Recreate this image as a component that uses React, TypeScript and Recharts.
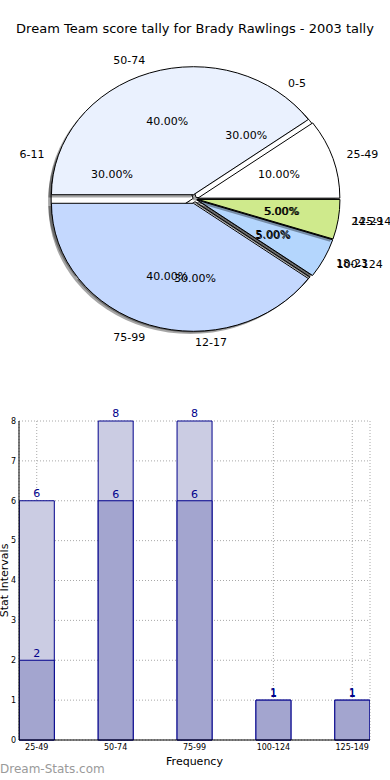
import React from "react";
import {
  Bar,
  BarChart,
  CartesianGrid,
  LabelList,
  Label,
  Pie,
  PieChart,
  Sector,
  XAxis,
  YAxis,
} from "recharts";

// outer pie: score ranges
const rangeNames = ["25-49", "50-74", "75-99", "100-124", "125-149"];
const rangeShares = [10, 40, 40, 5, 5];
const rangeColors = ["#ffffff", "#eaf1fe", "#c4d8fe", "#b4d6fd", "#cfea8c"];

// second pie: stat intervals
const intervalNames = ["0-5", "6-11", "12-17", "18-23", "24-29"];
const intervalShares = [30, 30, 30, 5, 5];

// bars
const barCategories = ["25-49", "50-74", "75-99", "100-124", "125-149"];
const totalCounts = [6, 8, 8, 1, 1];
const innerCounts = [2, 6, 6, 1, 1];
const yTicks = [0, 1, 2, 3, 4, 5, 6, 7, 8];

const R = 142;
const SY = 128 / 142; // matplotlib pie is squashed
const FONT = "'DejaVu Sans', Verdana, sans-serif";

const rangeData = rangeNames.map((name, i) => ({ name, value: rangeShares[i], fill: rangeColors[i] }));
const intervalData = intervalNames.map((name, i) => ({ name, value: intervalShares[i], fill: "#ffffff" }));
const barData = barCategories.map((c, i) => ({ pos: i, total: totalCounts[i], inner: innerCounts[i] }));

const explodeBy: Record<string, number> = {
  "25-49": 3,
  "50-74": 5,
  "75-99": 5,
  "100-124": 3,
  "125-149": 3,
  "0-5": 2,
  "6-11": 2,
  "12-17": 3,
  "18-23": 2,
  "24-29": 2,
};

const slice = (props: any) => {
  const { cx, cy, outerRadius, startAngle, endAngle, midAngle, fill } = props;
  const name = props.payload?.name ?? props.name;
  const e = explodeBy[name] ?? 0;
  const a = (-midAngle * Math.PI) / 180;
  const dx = e * Math.cos(a);
  const dy = e * Math.sin(a) * SY;
  return (
    <g transform={`translate(${dx} ${dy}) translate(0 ${cy}) scale(1 ${SY}) translate(0 ${-cy})`}>
      <Sector
        cx={cx - 3}
        cy={cy + 3}
        innerRadius={0}
        outerRadius={outerRadius}
        startAngle={startAngle}
        endAngle={endAngle}
        fill="#000"
        fillOpacity={0.35}
        stroke="none"
      />
      <Sector
        cx={cx}
        cy={cy}
        innerRadius={0}
        outerRadius={outerRadius}
        startAngle={startAngle}
        endAngle={endAngle}
        fill={fill}
        stroke="#000"
        strokeWidth={1}
        vectorEffect="non-scaling-stroke"
      />
    </g>
  );
};

const noSlice = () => <g />;

const pieLabel = (props: any) => {
  const { cx, cy, midAngle, outerRadius, name, value } = props;
  const e = explodeBy[name] ?? 0;
  const a = (-midAngle * Math.PI) / 180;
  const c = Math.cos(a);
  const s = Math.sin(a);
  const ro = 1.1 * outerRadius + e;
  const ri = 0.6 * outerRadius + e;
  return (
    <g fontFamily={FONT} fontSize={11} fill="#000">
      <text
        x={cx + ro * c}
        y={cy + ro * SY * s}
        textAnchor={c > -0.01 ? "start" : "end"}
        dominantBaseline="central"
        fill="#000"
      >
        {name}
      </text>
      <text
        x={cx + ri * c}
        y={cy + ri * SY * s}
        textAnchor="middle"
        dominantBaseline="central"
        fill="#000"
      >
        {Number(value).toFixed(2)}%
      </text>
    </g>
  );
};

const pieCommon = {
  dataKey: "value",
  cx: 195,
  cy: 199,
  outerRadius: R,
  startAngle: 0,
  endAngle: 360,
  labelLine: false,
  isAnimationActive: false,
};

export default function App() {
  return (
    <div
      style={{
        position: "absolute",
        left: 0,
        top: 0,
        width: 390,
        height: 780,
        background: "#fff",
        fontFamily: FONT,
        overflow: "hidden",
      }}
    >
      <div
        style={{
          position: "absolute",
          top: 21,
          left: 0,
          width: 390,
          textAlign: "center",
          fontSize: 13,
          color: "#000",
        }}
      >
        Dream Team score tally for Brady Rawlings - 2003 tally
      </div>

      <div style={{ position: "absolute", top: 0, left: 0 }}>
        <PieChart width={390} height={380} margin={{ top: 0, right: 0, bottom: 0, left: 0 }}>
          <Pie data={intervalData} {...pieCommon} shape={slice} label={false} />
          <Pie data={rangeData} {...pieCommon} shape={slice} label={false} />
          <Pie data={intervalData} {...pieCommon} shape={noSlice} label={pieLabel} />
          <Pie data={rangeData} {...pieCommon} shape={noSlice} label={pieLabel} />
        </PieChart>
      </div>

      <div style={{ position: "absolute", top: 400, left: 0 }}>
        <BarChart
          width={390}
          height={380}
          data={barData}
          margin={{ top: 21, right: 20, bottom: 0, left: 0 }}
        >
          <CartesianGrid stroke="#a8a8a8" strokeDasharray="1 2" xAxisId="b" yAxisId="l" />
          <XAxis
            xAxisId="b"
            dataKey="pos"
            type="number"
            domain={[-0.225, 4.225]}
            ticks={[0, 1, 2, 3, 4]}
            tickFormatter={(v) => barCategories[v]}
            allowDataOverflow
            height={40}
            stroke="#000"
            tickLine={false}
            tickSize={0}
            tick={{ fontSize: 8, fill: "#000", fontFamily: FONT }}
            tickMargin={4}
          >
            <Label
              value="Frequency"
              position="insideBottom"
              offset={15}
              style={{ fontSize: 11, fill: "#000", fontFamily: FONT }}
            />
          </XAxis>
          <XAxis
            xAxisId="t"
            dataKey="pos"
            type="number"
            orientation="top"
            domain={[-0.225, 4.225]}
            allowDataOverflow
            height={0}
            stroke="#000"
            tick={false}
            tickLine={false}
          />
          <YAxis
            yAxisId="l"
            domain={[0, 8]}
            ticks={yTicks}
            width={19}
            stroke="#000"
            tickLine={false}
            tickSize={0}
            tick={{ fontSize: 8, fill: "#000", fontFamily: FONT }}
            tickMargin={3}
          >
            <Label
              content={({ viewBox }: any) => (
                <text
                  x={viewBox.x + 4}
                  y={viewBox.y + viewBox.height / 2}
                  transform={`rotate(-90 ${viewBox.x + 4} ${viewBox.y + viewBox.height / 2})`}
                  textAnchor="middle"
                  dominantBaseline="central"
                  fontSize={11}
                  fontFamily={FONT}
                  fill="#000"
                >
                  Stat Intervals
                </text>
              )}
            />
          </YAxis>
          <YAxis
            yAxisId="r"
            orientation="right"
            domain={[0, 8]}
            ticks={yTicks}
            width={0}
            stroke="#000"
            tick={false}
            tickLine={false}
          />
          <Bar
            dataKey="total"
            xAxisId="b"
            yAxisId="l"
            barSize={35}
            fill="#cbcce3"
            stroke="#00008b"
            strokeWidth={1}
            isAnimationActive={false}
          >
            <LabelList
              dataKey="total"
              position="top"
              offset={4}
              fill="#00008b"
              fontSize={11}
              fontFamily={FONT}
            />
          </Bar>
          <Bar
            dataKey="inner"
            xAxisId="t"
            yAxisId="r"
            barSize={35}
            fill="#a3a5cf"
            stroke="#00008b"
            strokeWidth={1}
            isAnimationActive={false}
          >
            <LabelList
              dataKey="inner"
              position="top"
              offset={3}
              fill="#00008b"
              fontSize={11}
              fontFamily={FONT}
            />
          </Bar>
        </BarChart>
      </div>

      <div
        style={{
          position: "absolute",
          left: 0,
          top: 762,
          fontSize: 12,
          color: "#9a9a9a",
        }}
      >
        Dream-Stats.com
      </div>
    </div>
  );
}
